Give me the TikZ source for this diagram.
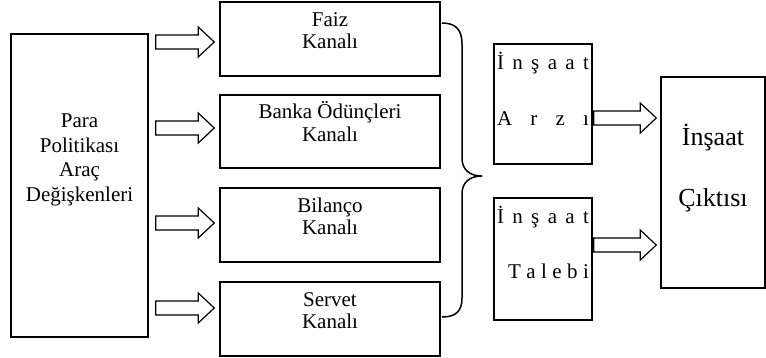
\documentclass[tikz,border=0pt]{standalone}
\usepackage{fontspec}
\setmainfont{Liberation Serif}
\usetikzlibrary{shapes,arrows,calc}
\newcommand{\hstrut}[1]{\rule{0pt}{#1}}
\newcommand{\dstrut}[1]{\rule[-#1]{0pt}{0pt}}

\begin{document}
\begin{tikzpicture}[x=1pt, y=-1pt, font=\fontsize{21}{22.5}\selectfont]
\tikzstyle{vertexr}=[rectangle, draw=black, line width=1.5pt, inner sep=1pt, align=center]
\tikzstyle{drawstyle}=[draw=black, line width=1.2pt, fill=white, line join=miter,
  to path={let \p1=(\tikztostart), \p2=(\tikztotarget) in
    (\x1,\y1+7pt) -- (\x2-16pt,\y1+7pt) -- (\x2-16pt,\y1+15pt) -- (\x2,\y1)
    -- (\x2-16pt,\y1-15pt) -- (\x2-16pt,\y1-7pt) -- (\x1,\y1-7pt) -- cycle}]
\tikzstyle{bracestyle}=[line width=1.5pt]

\useasboundingbox (0,0) rectangle (766,357);

\node[vertexr, minimum width=137, minimum height=303, font=\fontsize{21}{24.5}\selectfont] (G0x0) at (79.5,185.5) {\hstrut{20pt}Para\\Politikası\\Araç\\Değişkenleri\dstrut{62pt}};
\node[vertexr, minimum width=220, minimum height=74] (G1x0) at (330,39) {\hstrut{20pt}Faiz\\Kanalı\dstrut{23.5pt}};
\node[vertexr, minimum width=220, minimum height=73] (G1x1) at (330,131.5) {\hstrut{20pt}Banka Ödünçleri\\Kanalı\dstrut{23.5pt}};
\node[vertexr, minimum width=220, minimum height=74] (G1x2) at (330,225) {\hstrut{20pt}Bilanço\\Kanalı\dstrut{23.5pt}};
\node[vertexr, minimum width=220, minimum height=74] (G1x3) at (330,319) {\hstrut{20pt}Servet\\Kanalı\dstrut{23.5pt}};
\draw[drawstyle] ($(G0x0.east |- G1x0.west)+(7,3)$) to ($(G1x0.west)+(-5,3)$);
\draw[drawstyle] ($(G0x0.east |- G1x1.west)+(7,-3.5)$) to ($(G1x1.west)+(-5,-3.5)$);
\draw[drawstyle] ($(G0x0.east |- G1x2.west)+(7,-2)$) to ($(G1x2.west)+(-5,-2)$);
\draw[drawstyle] ($(G0x0.east |- G1x3.west)+(7,-11)$) to ($(G1x3.west)+(-5,-11)$);

\draw[bracestyle] (442,23) .. controls (456,23) and (462,30) .. (462,44) -- (462,158)
  .. controls (462,170) and (470,176) .. (482,176)
  .. controls (470,176) and (462,182) .. (462,194) -- (462,298)
  .. controls (462,311) and (456,317) .. (442,317);

\node[vertexr, minimum width=98, minimum height=120] (G2x0) at (543,104) {\hstrut{20pt}\makebox[92pt][s]{İ\hfill n\hfill ş\hfill a\hfill a\hfill t}\\[33pt]\makebox[92pt][s]{A\hfill r\hfill z\hfill ı}\dstrut{33pt}};
\node[vertexr, minimum width=98, minimum height=122] (G2x1) at (543,259) {\hstrut{20pt}\makebox[92pt][s]{İ\hfill n\hfill ş\hfill a\hfill a\hfill t}\\[33pt]\makebox[92pt][r]{\makebox[81pt][s]{T\hfill a\hfill l\hfill e\hfill b\hfill i}}\dstrut{36pt}};
\node[vertexr, minimum width=104, minimum height=211, font=\fontsize{26}{30}\selectfont] (G3x0) at (713,182.5) {\hstrut{25pt}İnşaat\\[31pt]Çıktısı\dstrut{39pt}};
\draw[drawstyle] ($(G2x0.east)+(1,14)$) to ($(G3x0.west |- G2x0.east)+(-4,14)$);
\draw[drawstyle] ($(G2x1.east)+(1,-14)$) to ($(G3x0.west |- G2x1.east)+(-4,-14)$);
\end{tikzpicture}
\end{document}
